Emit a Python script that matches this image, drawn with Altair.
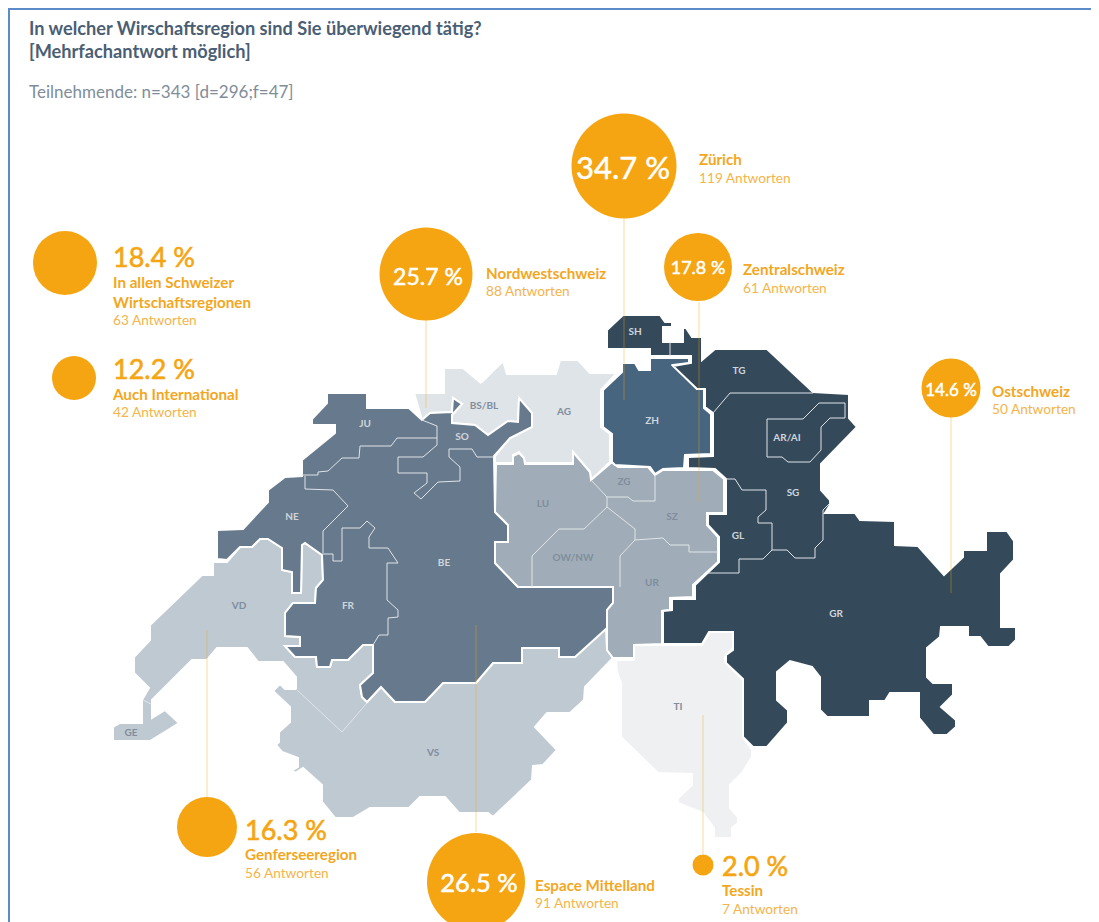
import altair as alt

# ---------- map geometry (outline points of the economic regions) ----------
ost_outline = [(607,330),(623,315),(660,315),(665,322),(672,322),(672,327),(663,327),(663,342),(683,342),(683,328),(686,328),(692,337),(702,337),(702,360),(715,349),(767,349),(813,392),(849,394),(849,418),(857,427),(821,464),(821,490),(830,500),(830,505),(825,513),(855,513),(860,520),(895,521),(895,545),(918,546),(944,575),(963,557),(963,550),(986,550),(986,531),(1007,531),(1014,541),(1014,560),(1001,574),(1001,627),(1016,627),(1016,640),(1009,647),(988,647),(980,637),(968,637),(968,627),(941,627),(940,637),(927,648),(927,677),(933,683),(953,683),(953,695),(941,707),(956,720),(956,727),(947,735),(933,735),(919,718),(919,693),(890,693),(885,701),(870,701),(870,717),(827,717),(820,710),(820,677),(812,667),(790,661),(777,672),(777,700),(788,710),(788,723),(767,747),(753,747),(743,737),(743,679),(726,663),(726,655),(733,650),(733,632),(709,632),(702,644),(663,644),(663,611),(672,610),(672,599),(695,599),(695,585),(719,562),(719,537),(708,525),(708,514),(726,514),(726,479),(715,469),(688,468),(688,457),(713,456),(713,413),(705,407),(705,389),(697,389),(673,366),(691,363),(691,356),(650,356),(650,349),(607,349)]
zh_outline = [(650,358),(689,358),(689,363),(673,365),(697,389),(704,389),(704,408),(711,414),(711,454),(685,455),(684,468),(663,469),(655,474),(650,467),(615,465),(612,462),(612,434),(603,427),(603,390),(622,372),(622,363),(635,363),(639,370),(650,370)]
nw_outline = [(414,393),(444,393),(444,368),(463,368),(481,383),(503,361),(507,374),(556,374),(560,360),(578,360),(590,373),(617,373),(601,390),(601,427),(610,434),(610,462),(591,480),(590,472),(573,452),(573,463),(525,463),(523,457),(519,452),(513,455),(513,463),(495,463),(495,456),(510,438),(532,427),(532,413),(519,398),(518,422),(508,421),(488,435),(475,425),(452,423),(452,415),(462,404),(453,398),(452,412),(430,413),(422,420)]
mittelland_outline = [(327,393),(367,393),(367,408),(409,408),(422,420),(430,413),(452,412),(453,398),(462,404),(452,415),(452,423),(475,425),(488,435),(508,421),(518,422),(519,398),(532,413),(532,427),(510,438),(494,456),(495,512),(508,525),(508,542),(495,544),(495,563),(518,587),(613,587),(613,603),(607,610),(607,628),(575,657),(559,657),(559,648),(522,648),(522,663),(493,663),(476,683),(443,683),(425,702),(395,702),(381,687),(367,702),(362,697),(360,685),(373,673),(373,645),(363,645),(348,660),(332,660),(330,667),(317,667),(316,657),(295,657),(285,646),(300,646),(300,637),(285,636),(285,613),(293,603),(315,603),(316,588),(323,580),(322,555),(305,543),(302,545),(301,593),(292,593),(292,572),(282,570),(282,548),(268,539),(260,539),(252,547),(240,547),(227,560),(217,559),(217,530),(243,529),(268,502),(268,490),(285,477),(302,476),(302,460),(335,433),(335,425),(312,425),(312,419),(327,403)]
genf_outline = [(213,562),(227,562),(240,547),(252,547),(260,539),(268,539),(282,548),(282,570),(292,572),(292,593),(301,593),(302,545),(305,543),(322,555),(323,580),(316,588),(315,603),(293,603),(285,613),(285,636),(300,637),(300,646),(285,646),(295,657),(316,657),(317,667),(330,667),(332,660),(348,660),(363,645),(373,645),(373,673),(360,685),(362,697),(367,702),(381,687),(395,702),(425,702),(443,683),(476,683),(493,663),(522,663),(522,648),(559,648),(559,657),(575,657),(606,628),(607,650),(613,658),(585,687),(584,700),(570,713),(547,713),(535,727),(557,750),(543,765),(533,766),(532,780),(493,817),(488,813),(459,813),(445,797),(420,797),(409,808),(370,808),(353,818),(335,818),(322,802),(322,785),(303,768),(295,773),(293,770),(298,767),(298,758),(282,752),(276,745),(279,742),(279,732),(290,722),(290,707),(273,691),(280,684),(285,689),(296,689),(296,677),(283,662),(258,662),(247,648),(217,648),(207,660),(192,660),(152,700),(152,718),(165,710),(179,723),(168,730),(150,741),(113,741),(113,727),(120,723),(142,723),(142,700),(149,688),(134,673),(134,657),(150,640),(150,625),(202,575),(213,575)]
zentral_outline = [(496,464),(513,464),(513,456),(519,453),(524,458),(525,464),(573,464),(573,452),(590,472),(591,480),(612,462),(618,467),(648,467),(655,475),(663,470),(713,470),(724,479),(724,513),(707,513),(707,525),(718,537),(718,562),(693,585),(693,597),(670,598),(670,610),(662,611),(662,644),(634,645),(634,658),(613,658),(607,650),(607,610),(613,603),(613,587),(518,587),(495,563),(495,542),(508,542),(508,525),(495,512)]
tessin_outline = [(634,645),(702,645),(710,632),(733,632),(733,647),(725,657),(725,662),(743,680),(743,737),(752,750),(752,757),(742,773),(730,785),(730,808),(738,817),(738,823),(732,828),(732,838),(714,838),(714,828),(703,813),(678,803),(678,798),(692,785),(692,774),(658,773),(621,737),(621,683),(617,672),(616,660),(634,660)]

# ---------- canton borders inside a region ----------
inner_lines = [
    [(670,342),(670,356)],
    [(713,413),(730,393),(813,393)],
    [(767,419),(803,419),(819,403),(845,403),(845,418),(830,418),(821,427),(821,450),(810,462),(788,462),(782,457),(767,457),(767,419)],
    [(739,573),(739,559),(763,559),(772,550),(772,523),(758,523),(758,517),(766,510),(766,490),(742,490),(735,479),(726,479)],
    [(772,550),(787,550),(795,558),(815,558),(815,548),(823,540),(823,510),(830,503)],
    [(708,573),(739,573)],
    [(302,475),(318,475),(318,472),(328,471),(342,458),(359,458),(360,446),(391,446),(397,438),(437,438)],
    [(422,420),(437,426),(437,445),(423,457),(398,457),(398,473),(427,473),(427,483),(414,493),(421,499),(438,482),(460,481),(460,467),(449,457),(449,449),(472,449),(477,457),(494,457)],
    [(305,476),(305,489),(333,490),(348,506),(323,531),(323,553)],
    [(322,554),(333,554),(333,561),(342,561),(342,528),(360,528),(367,521),(375,528),(369,537),(369,548),(388,548),(398,563),(387,563),(387,600),(398,610),(398,617),(388,618),(388,635),(379,635),(373,645)],
    [(296,689),(342,732),(367,703)],
    [(143,700),(151,704)],
    [(591,480),(607,497),(607,507)],
    [(607,497),(628,497),(633,501),(655,501),(655,475)],
    [(607,507),(584,529),(559,529),(532,556),(532,587)],
    [(607,507),(635,529),(635,540),(620,556),(620,587)],
    [(635,540),(663,538),(670,545),(689,545),(689,552),(718,552)],
    [(519,398),(502,380),(491,390),(481,383)],
]

region_names = ["Nordwestschweiz", "Tessin", "Genfersee", "Espace Mittelland", "Zentralschweiz", "Zürich", "Ostschweiz"]
region_colors = ["#dfe4e8", "#eef0f2", "#bfc9d2", "#67798c", "#a0adb8", "#486580", "#34495a"]
region_shapes = [nw_outline, tessin_outline, genf_outline, mittelland_outline, zentral_outline, zh_outline, ost_outline]

# ---------- canton labels ----------
canton_dark = ["SH","TG","ZH","SO","JU","NE","FR","BE","GL","SG","AR/AI","GR"]
canton_dark_x = [635,739,652,462,365,292,348,444,738,793,787,836]
canton_dark_y = [332,371,421,437,424,517,606,563,536,493,438,614]
canton_mid = ["AG","BS/BL","VD","GE","VS","LU","OW/NW","ZG","SZ","UR","TI"]
canton_mid_x = [564,484,239,131,433,543,573,624,672,652,678]
canton_mid_y = [412,406,606,733,753,504,558,482,517,583,707]

# ---------- answers ----------
pct = [2.0,12.2,14.6,16.3,17.8,18.4,25.7,26.5,34.7]
bubble_area = [441,1936,3481,3600,4624,4096,8649,9604,11025]
bubble_x = [703,74,951,207,698,65,426,476,624]
bubble_y = [865,378,388,827,267,263,274,882,166]

stem_x = [426,624,699,951,207,476,703]
stem_top = [320,218,302,417,630,625,715]
stem_bottom = [408,400,502,593,797,832,854]

inside_text = ["34.7 %","25.7 %","26.5 %","17.8 %","14.6 %"]
inside_x = [623,428,479,698,951]
inside_y = [168,276,882,267,389]
inside_size = [31,23,25.5,18,17]

big_text = ["18.4 %","12.2 %","16.3 %","2.0 %"]
big_x = [113,113,245,722]
big_y = [257,369,830,866]

name_text = ["In allen Schweizer","Wirtschaftsregionen","Auch International","Nordwestschweiz","Zürich","Zentralschweiz","Ostschweiz","Genferseeregion","Espace Mittelland","Tessin"]
name_x = [113,113,113,486,699,743,992,245,535,722]
name_y = [281,301,393,272,158,268,390,853,884,889]

count_text = ["63 Antworten","42 Antworten","88 Antworten","119 Antworten","61 Antworten","50 Antworten","56 Antworten","91 Antworten","7 Antworten"]
count_x = [113,113,486,699,743,992,245,535,722]
count_y = [319,411,290,177,287,408,872,902,908]

title_lines = ["In welcher Wirschaftsregion sind Sie überwiegend tätig?","[Mehrfachantwort möglich]"]
title_y = [28,51]
subtitle = "Teilnehmende: n=343 [d=296;f=47]"

FONT = "Lato"
ORANGE = "#f5a511"

xs = alt.Scale(domain=[8,1091], nice=False, zero=False)
ys = alt.Scale(domain=[922,8], nice=False, zero=False)
X = lambda f: alt.X(f, type="quantitative", scale=xs, axis=None)
Y = lambda f: alt.Y(f, type="quantitative", scale=ys, axis=None)
PROJ = dict(type="identity", scale=1, translate=[-8,-8])

def ring(p):
    return [[list(q) for q in p] + [list(p[0])]]

region_features = [
    {"type":"Feature","properties":{"region":n},"geometry":{"type":"Polygon","coordinates":ring(s)}}
    for n,s in zip(region_names, region_shapes)
]
line_features = [
    {"type":"Feature","properties":{},"geometry":{"type":"LineString","coordinates":[list(q) for q in l]}}
    for l in inner_lines
]

regions = alt.Chart(alt.Data(values=region_features)).mark_geoshape(stroke="white", strokeWidth=2, strokeJoin="miter").encode(
    fill=alt.Fill("properties.region:N", scale=alt.Scale(domain=region_names, range=region_colors), legend=None)
).project(**PROJ)
borders = alt.Chart(alt.Data(values=line_features)).mark_geoshape(filled=False, stroke="#dfe4e8", strokeWidth=1).project(**PROJ)

def rows(**k):
    keys = list(k)
    return alt.Data(values=[dict(zip(keys, v)) for v in zip(*k.values())])

def text_layer(t, x, y, size, color, weight="normal", align="left", thicken=0, dy=1.5):
    props = dict(font=FONT, fontSize=size, color=color, fontWeight=weight, align=align, baseline="middle", dy=dy)
    if thicken:
        props.update(stroke=color, strokeWidth=thicken)
    return alt.Chart(rows(t=t, x=x, y=y)).mark_text(**props).encode(x=X("x"), y=Y("y"), text="t:N")

stems = alt.Chart(rows(x=stem_x, a=stem_top, b=stem_bottom)).mark_rule(color=ORANGE, opacity=0.4, strokeWidth=1).encode(
    x=X("x"), y=Y("a"), y2="b:Q")
bubbles = alt.Chart(rows(p=pct, x=bubble_x, y=bubble_y)).mark_circle(color=ORANGE, opacity=1).encode(
    x=X("x"), y=Y("y"),
    size=alt.Size("p:Q", scale=alt.Scale(domain=pct, range=bubble_area), legend=None))

inside = alt.Chart(rows(t=inside_text, x=inside_x, y=inside_y, s=inside_size)).mark_text(
    font=FONT, color="white", stroke="white", strokeWidth=0.5, align="center", baseline="middle", dy=2
).encode(x=X("x"), y=Y("y"), text="t:N", size=alt.Size("s:Q", scale=None))

frame_h = alt.Chart(rows(a=[8], b=[1091], y=[9])).mark_rule(color="#5b8bc9", strokeWidth=2).encode(x=X("a"), x2="b:Q", y=Y("y"))
frame_v = alt.Chart(rows(x=[9], a=[9], b=[922])).mark_rule(color="#5b8bc9", strokeWidth=2).encode(x=X("x"), y=Y("a"), y2="b:Q")

chart = alt.layer(
    regions, borders,
    text_layer(canton_dark, canton_dark_x, canton_dark_y, 10, "#cfd6dc", "bold", "center", dy=0),
    text_layer(canton_mid, canton_mid_x, canton_mid_y, 10, "#7f8d9c", "bold", "center", dy=0),
    stems, bubbles, inside,
    text_layer(big_text, big_x, big_y, 27, ORANGE, thicken=0.6),
    text_layer(name_text, name_x, name_y, 15.2, "#f2a71f", "bold"),
    text_layer(count_text, count_x, count_y, 13.7, "#f4b44a"),
    text_layer(title_lines, [29,29], title_y, 18.2, "#4a5e74", "bold"),
    text_layer([subtitle], [29], [91], 17, "#7f8d9a"),
    frame_h, frame_v,
).properties(width=1083, height=914, padding=0, autosize=alt.AutoSizeParams(type="none"), background="white"
).configure_view(stroke=None)

chart.save("out.html", embed_options={"renderer": "svg", "actions": False})
